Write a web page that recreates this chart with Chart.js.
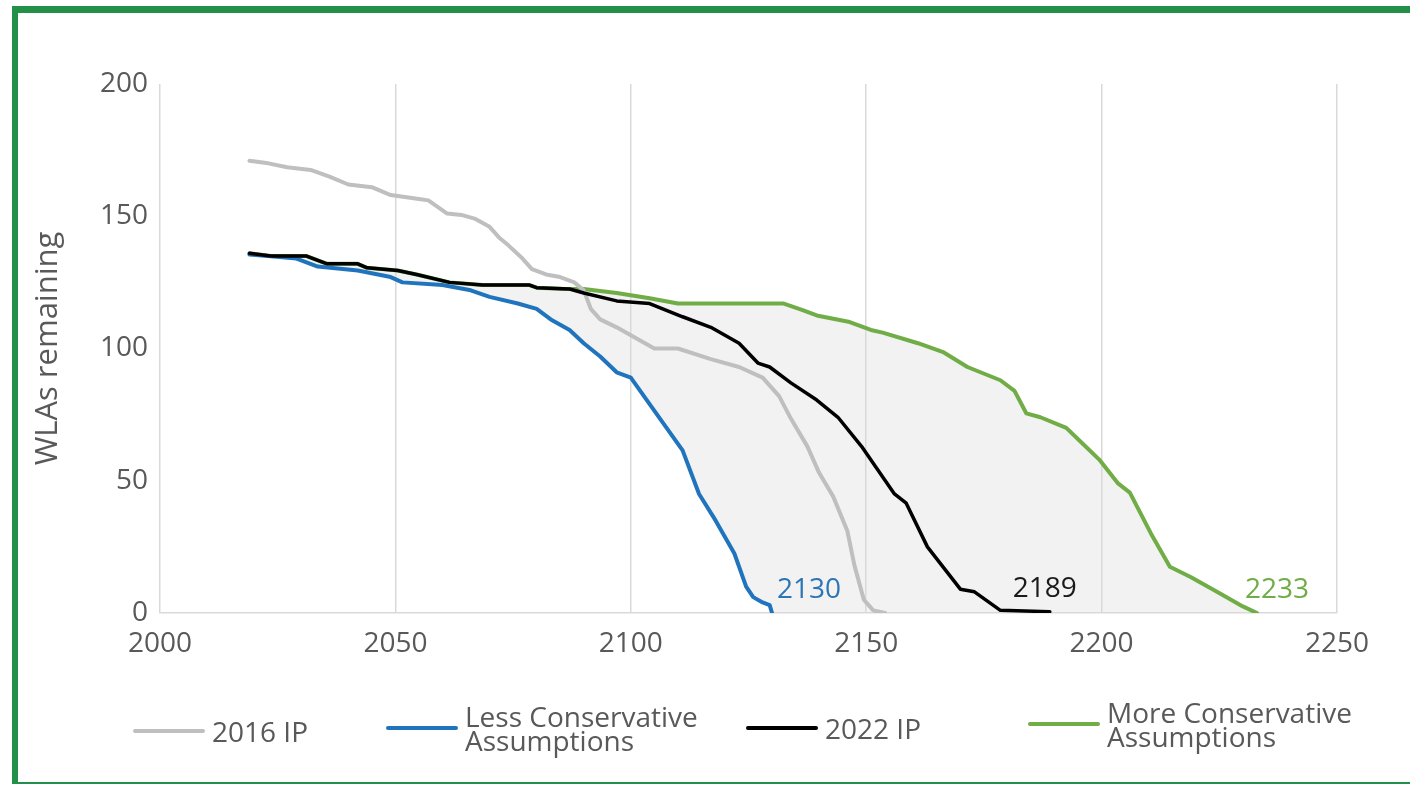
<!DOCTYPE html>
<html>
<head>
<meta charset="utf-8">
<script src="https://cdn.jsdelivr.net/npm/chart.js@4.4.1/dist/chart.umd.min.js"></script>
<style>
  html, body { margin:0; padding:0; width:1410px; height:785px; overflow:hidden; background:#fff; }
  #chart { position:absolute; left:0; top:0; }
  #frame { position:absolute; left:12px; top:6px; width:1420px; height:778px; box-sizing:border-box;
    border-top:7px solid #23904a; border-left:6px solid #23904a; border-bottom:2px solid #23904a; pointer-events:none; }
  .legend-item { position:absolute; display:flex; align-items:center; height:60px;
    font-family:'Open Sans', sans-serif; font-size:28px; line-height:24px; color:#595959; white-space:nowrap; }
  .legend-item .swatch { width:72px; height:4px; margin-right:7px; border-radius:2px; }
</style>
</head>
<body>
<canvas id="chart" width="1410" height="785"></canvas>
<div id="legend"></div>
<div id="frame"></div>
<script>
// series names (legend lines)
const seriesNames = [
  ['2016 IP'],
  ['Less Conservative', 'Assumptions'],
  ['2022 IP'],
  ['More Conservative', 'Assumptions']
];
const seriesColors = ['#bfbfbf', '#1f74bd', '#000000', '#70ad47'];

const xTicks = [2000, 2050, 2100, 2150, 2200, 2250];
const yTicks = [0, 50, 100, 150, 200];

// 2016 IP
const grayYears = [2019, 2023, 2027, 2032, 2036, 2040, 2045, 2049, 2055, 2057, 2061, 2064, 2067, 2070, 2072, 2074, 2077, 2079, 2082, 2085, 2088, 2090, 2091.5, 2093.5, 2097, 2100, 2105, 2110, 2117, 2123, 2128, 2131.5, 2134, 2137.5, 2140, 2143, 2146, 2147.5, 2149.5, 2151.5, 2154];
const grayValues = [171, 170, 168.5, 167.5, 165, 162, 161, 158, 156.5, 156, 151, 150.5, 149, 146, 142, 139, 134, 130, 128, 127, 125, 122, 115, 111, 108, 105, 100, 100, 96, 93, 89, 82, 73.5, 63, 53, 44, 31, 18, 5, 1, 0];

// Less Conservative Assumptions
const blueYears = [2019, 2023, 2029, 2033.5, 2042, 2049, 2051.5, 2060, 2066, 2070, 2076, 2080, 2083, 2087, 2090, 2093.5, 2097, 2100, 2104, 2111, 2114.5, 2118, 2122, 2124.5, 2126, 2128, 2129.5, 2130];
const blueValues = [135.5, 135, 134, 131, 129.5, 127, 125, 124, 122, 119.5, 117, 115, 111, 107, 102, 97, 91, 89, 79, 61.5, 45, 35, 22.5, 10, 6, 4, 3, 0];

// 2022 IP
const blackYears = [2019, 2023.5, 2031, 2035.5, 2042, 2044, 2050.5, 2054.5, 2061.5, 2068.5, 2078.5, 2080, 2087, 2090, 2097, 2104, 2111, 2117, 2123, 2127, 2129.5, 2134, 2139.5, 2144, 2149, 2156, 2158.5, 2163, 2170, 2173, 2178.5, 2189];
const blackValues = [136, 135, 135, 132, 132, 130.5, 129.5, 128, 125, 124, 124, 123, 122.5, 121, 118, 117, 112, 108, 102, 94.5, 93, 87, 80.5, 74, 63, 45, 41.5, 25, 9, 8, 1, 0.5];

// More Conservative Assumptions
const greenYears = [2019, 2023.5, 2031, 2035.5, 2042, 2044, 2050.5, 2054.5, 2061.5, 2068.5, 2078.5, 2080, 2086, 2090, 2097, 2104, 2110, 2132.5, 2136.5, 2139.5, 2146.5, 2151, 2153.5, 2161, 2166.5, 2171.5, 2178.5, 2181.5, 2184, 2187, 2192.5, 2196, 2199.5, 2203.5, 2206, 2210.5, 2214.5, 2219, 2224.5, 2230, 2233];
const greenValues = [136, 135, 135, 132, 132, 130.5, 129.5, 128, 125, 124, 124, 123, 122.5, 122.5, 121, 119, 117, 117, 114.5, 112.5, 110, 107, 106, 102, 98.5, 93, 88, 84, 75.5, 74, 70, 64, 58, 49, 45.5, 30, 17.5, 13.5, 8, 2.5, 0];

const endLabelColors = [null, '#2e75b6', '#1a1a1a', '#70ad47'];

function toPoints(xs, ys) {
  return xs.map((x, i) => ({x: x, y: ys[i]}));
}

// grey band between the less and more conservative runs
const bandFill = {
  id: 'bandFill',
  beforeDraw(chart) {
    const upper = chart.getDatasetMeta(3).data;
    const lower = chart.getDatasetMeta(1).data;
    const ctx = chart.ctx;
    ctx.save();
    ctx.beginPath();
    upper.forEach((p, i) => i ? ctx.lineTo(p.x, p.y) : ctx.moveTo(p.x, p.y));
    for (let i = lower.length - 1; i >= 0; i--) ctx.lineTo(lower[i].x, lower[i].y);
    ctx.closePath();
    ctx.fillStyle = '#f2f2f2';
    ctx.fill();
    ctx.restore();
  }
};

// year label at the end of each scenario
const endLabels = {
  id: 'endLabels',
  afterDatasetsDraw(chart) {
    const ctx = chart.ctx;
    const shift = {1: 5, 2: -37, 3: -12};
    ctx.save();
    ctx.font = '28px "Open Sans"';
    ctx.textAlign = 'left';
    ctx.textBaseline = 'middle';
    [1, 2, 3].forEach(i => {
      const pts = chart.getDatasetMeta(i).data;
      const last = pts[pts.length - 1];
      const data = chart.data.datasets[i].data;
      ctx.fillStyle = endLabelColors[i];
      ctx.fillText(String(Math.round(data[data.length - 1].x)), last.x + shift[i], last.y - 23);
    });
    ctx.restore();
  }
};

const allYears = [grayYears, blueYears, blackYears, greenYears];
const allValues = [grayValues, blueValues, blackValues, greenValues];
const drawOrder = [2, 1, 0, 3];
const widths = [4, 4, 3.5, 4];

new Chart(document.getElementById('chart').getContext('2d'), {
  type: 'line',
  data: {
    datasets: seriesNames.map((name, i) => ({
      label: name.join(' '),
      data: toPoints(allYears[i], allValues[i]),
      borderColor: seriesColors[i],
      backgroundColor: seriesColors[i],
      borderWidth: widths[i],
      pointRadius: 0,
      tension: 0,
      fill: false,
      order: drawOrder[i],
      borderJoinStyle: 'round',
      borderCapStyle: 'round'
    }))
  },
  options: {
    responsive: false,
    animation: false,
    devicePixelRatio: 1,
    layout: { padding: { left: 20, right: 73, top: 84, bottom: 112 } },
    plugins: { legend: { display: false }, tooltip: { enabled: false } },
    scales: {
      x: {
        type: 'linear',
        min: xTicks[0],
        max: xTicks[xTicks.length - 1],
        afterBuildTicks: s => { s.ticks = xTicks.map(v => ({value: v})); },
        afterFit: s => { s.height = 60; },
        grid: { color: '#d9d9d9', lineWidth: 1.5, drawTicks: false },
        border: { color: '#d9d9d9', width: 1.5 },
        ticks: { color: '#595959', font: { family: 'Open Sans', size: 28 }, padding: 14, maxRotation: 0,
          callback: v => String(v) }
      },
      y: {
        min: yTicks[0],
        max: yTicks[yTicks.length - 1],
        afterBuildTicks: s => { s.ticks = yTicks.map(v => ({value: v})); },
        afterFit: s => { s.width = 140; },
        grid: { display: false, drawTicks: false },
        border: { display: false },
        ticks: { color: '#595959', font: { family: 'Open Sans', size: 28 }, padding: 12 },
        title: { display: true, text: 'WLAs remaining', color: '#595959', font: { family: 'Open Sans', size: 31 }, padding: { top: 10, bottom: 0 } }
      }
    }
  },
  plugins: [bandFill, endLabels]
});

// legend
const legendLeft = [133, 386, 746, 1028];
const legendTop = [701, 698, 698, 694];
const legend = document.getElementById('legend');
seriesNames.forEach((name, i) => {
  const item = document.createElement('div');
  item.className = 'legend-item';
  item.style.left = legendLeft[i] + 'px';
  item.style.top = legendTop[i] + 'px';
  item.innerHTML = '<span class="swatch" style="background:' + seriesColors[i] + '"></span><span>' + name.join('<br>') + '</span>';
  legend.appendChild(item);
});
</script>
</body>
</html>
